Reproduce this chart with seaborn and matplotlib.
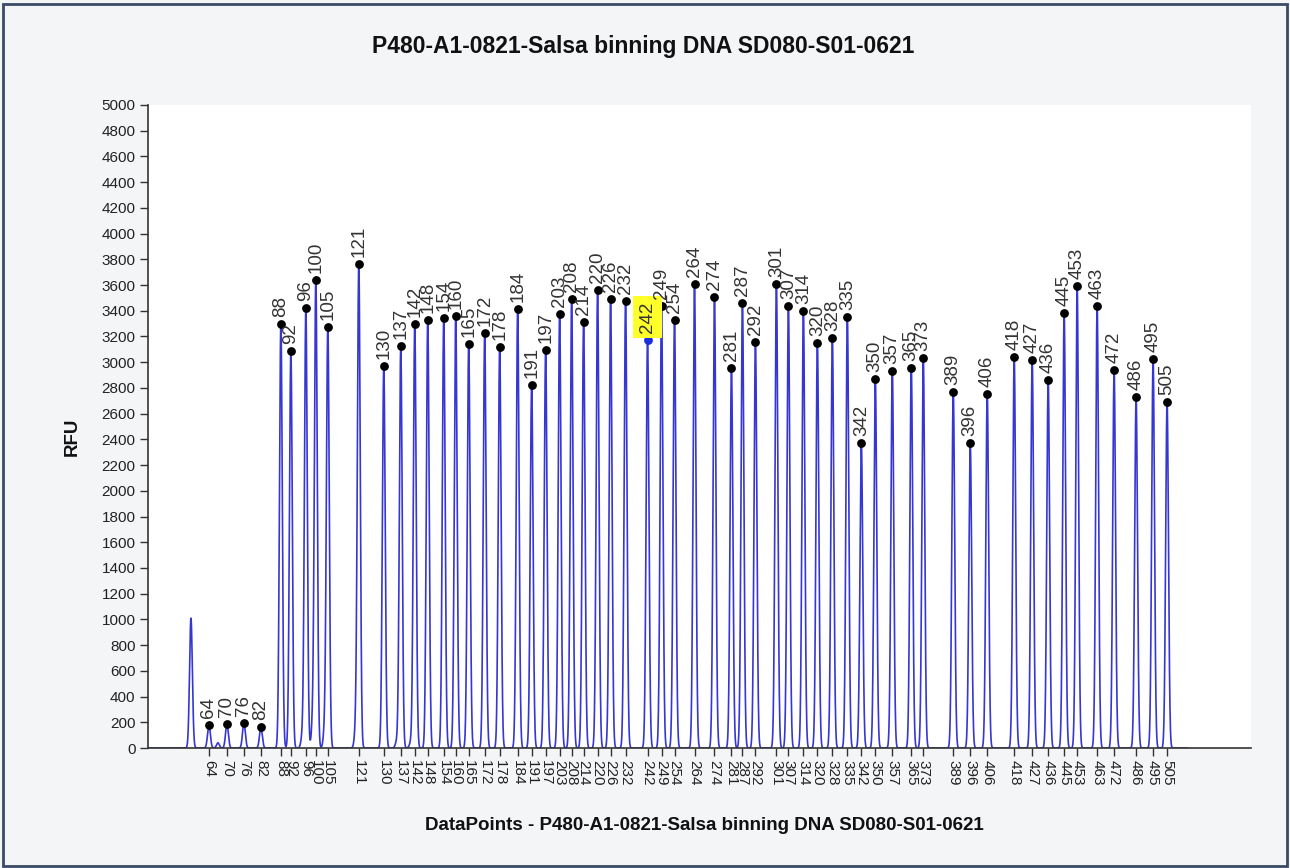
import numpy as np
import pandas as pd
import matplotlib
matplotlib.use("Agg")
import matplotlib.pyplot as plt
from matplotlib.patches import Rectangle
import seaborn as sns

# ---- data -------------------------------------------------------------
title = "P480-A1-0821-Salsa binning DNA SD080-S01-0621"
xlabel = "DataPoints - P480-A1-0821-Salsa binning DNA SD080-S01-0621"
ylabel = "RFU"

# labelled peaks: bin size label, position (data points), height (RFU)
peak_labels = [64, 70, 76, 82, 88, 92, 96, 100, 105, 121, 130, 137, 142, 148,
               154, 160, 165, 172, 178, 184, 191, 197, 203, 208, 214, 220, 226,
               232, 242, 249, 254, 264, 274, 281, 287, 292, 301, 307, 314, 320,
               328, 335, 342, 350, 357, 365, 373, 389, 396, 406, 418, 427, 436,
               445, 453, 463, 472, 486, 495, 505]
peak_pos = [610, 790, 960, 1130, 1330, 1430, 1580, 1680, 1800, 2110, 2360, 2530,
            2670, 2800, 2960, 3080, 3210, 3370, 3520, 3700, 3840, 3980, 4120,
            4240, 4360, 4500, 4630, 4780, 5000, 5140, 5270, 5470, 5670, 5840,
            5950, 6080, 6290, 6410, 6560, 6700, 6850, 7000, 7140, 7280, 7450,
            7640, 7760, 8060, 8230, 8400, 8670, 8850, 9010, 9170, 9300, 9500,
            9670, 9890, 10060, 10200]
peak_rfu = [180, 185, 195, 160, 3300, 3090, 3420, 3640, 3275, 3765, 2970, 3125,
            3300, 3330, 3345, 3360, 3140, 3225, 3120, 3415, 2825, 3095, 3375,
            3490, 3315, 3560, 3495, 3475, 3175, 3435, 3330, 3610, 3505, 2955,
            3460, 3160, 3610, 3435, 3400, 3150, 3190, 3350, 2370, 2870, 2935,
            2955, 3035, 2770, 2370, 2755, 3040, 3015, 2860, 3385, 3595, 3440,
            2940, 2730, 3025, 2690]
highlight_label = 242

# unlabelled trace features (position, height)
minor_pos = [430, 700, 1545, 1650, 1770, 2080, 2490, 2630]
minor_rfu = [1010, 40, 90, 200, 150, 140, 50, 40]

yticks = list(range(0, 5001, 200))
xmax = 11040

# ---- trace built from the peak table ---------------------------------
x = np.arange(0, 10400, 1.0)
y = np.zeros_like(x)
for p, h in zip(list(peak_pos) + minor_pos, list(peak_rfu) + minor_rfu):
    y += h * np.exp(-0.5 * ((x - p) / 14.0) ** 2)
trace = pd.DataFrame({"dp": x, "rfu": y})
peaks = pd.DataFrame({"label": peak_labels, "dp": peak_pos, "rfu": peak_rfu})

# ---- figure -------------------------------------------------------------
sns.set_style("white")
plt.rcParams["font.family"] = ["Liberation Sans", "DejaVu Sans"]

fig = plt.figure(figsize=(12.9, 8.68), dpi=100, facecolor="#f4f5f7")
ax = fig.add_axes([148 / 1290, 1 - 748 / 868, (1251 - 148) / 1290, (748 - 105) / 868])
ax.set_facecolor("white")

sns.lineplot(data=trace, x="dp", y="rfu", ax=ax, color="#3636d2", lw=1.2,
             estimator=None, sort=False)

normal = peaks[peaks["label"] != highlight_label]
hl = peaks[peaks["label"] == highlight_label]
sns.scatterplot(data=normal, x="dp", y="rfu", ax=ax, color="black", s=40,
                edgecolor="black", linewidth=0, zorder=5)
sns.scatterplot(data=hl, x="dp", y="rfu", ax=ax, color="#1a2ee0", s=40,
                edgecolor="#1a2ee0", linewidth=0, zorder=5)

for lab, px, py in zip(peak_labels, peak_pos, peak_rfu):
    kw = {}
    if lab == highlight_label:
        kw["bbox"] = dict(boxstyle="square,pad=0.3", fc="#ffff2a", ec="none")
    ax.annotate(str(lab), (px, py), xytext=(0, 5), textcoords="offset points",
                rotation=90, ha="center", va="bottom", fontsize=13.5,
                color="#333333", zorder=6, **kw)

ax.set_xlim(0, xmax)
ax.set_ylim(0, 5000)
ax.set_yticks(yticks)
ax.set_yticklabels([str(t) for t in yticks], fontsize=11, color="#222222")
ax.set_xticks(peak_pos)
ax.set_xticklabels([str(l) for l in peak_labels], rotation=270, fontsize=11,
                   color="#222222")
ax.tick_params(axis="both", direction="out", length=6, width=1, color="#333333",
               left=True, bottom=True, pad=3)
for side in ["top", "right"]:
    ax.spines[side].set_visible(False)
for side in ["left", "bottom"]:
    ax.spines[side].set_color("#333333")
    ax.spines[side].set_linewidth(1.2)

ax.set_xlabel("")
ax.set_ylabel("")
fig.text(643 / 1290, 1 - 47 / 868, title, ha="center", va="center",
         fontsize=16.5, fontweight="bold", color="#111111")
fig.text(704 / 1290, 1 - 825 / 868, xlabel, ha="center", va="center",
         fontsize=13.5, fontweight="bold", color="#111111")
fig.text(72 / 1290, 1 - 437 / 868, ylabel, ha="center", va="center",
         rotation=90, fontsize=13.5, fontweight="bold", color="#111111")

fig.patches.append(Rectangle((2.5 / 1290, 2.5 / 868), 1284 / 1290, 862 / 868,
                             transform=fig.transFigure, fill=False,
                             ec="#3b4a66", lw=2))

fig.savefig("out.png", dpi=100, facecolor=fig.get_facecolor())
